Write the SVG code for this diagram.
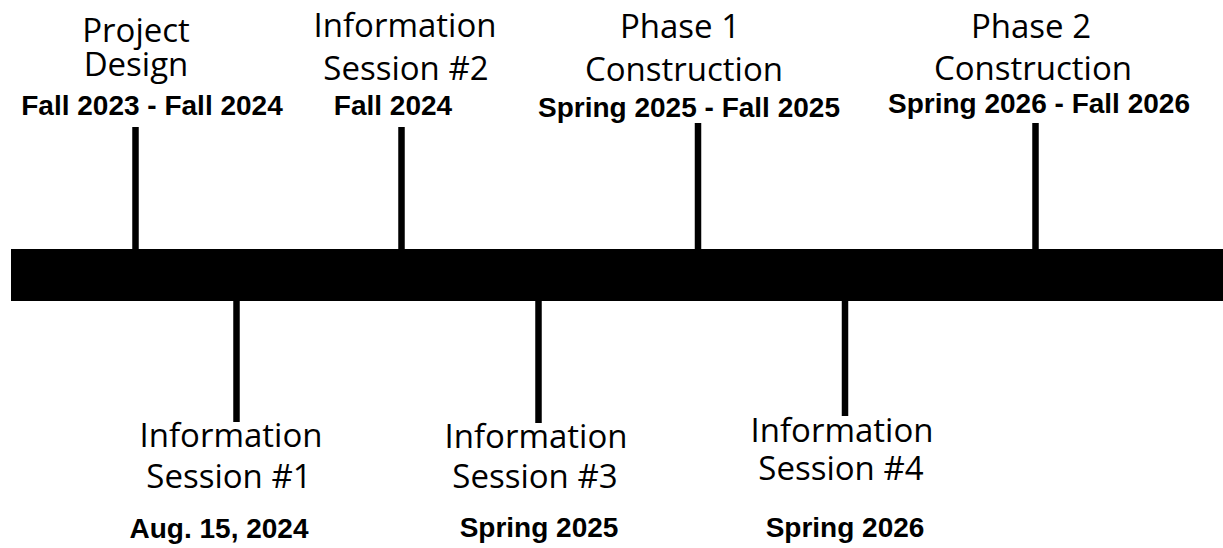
<svg xmlns="http://www.w3.org/2000/svg" width="1223" height="548" viewBox="0 0 1223 548">
<style>
.t{font-family:"Open Sans","Noto Sans",sans-serif;font-size:33px;fill:#000;text-anchor:middle}
.d{font-family:"Liberation Sans",Arial,sans-serif;font-size:28px;font-weight:bold;fill:#000;text-anchor:middle}
.tick{stroke:#000;stroke-width:6.5;fill:none}
</style>
<rect width="1223" height="548" fill="#fff"/>
<g id="connectors">
<rect id="timeline-bar" x="11" y="249" width="1212" height="52" fill="#000"/>
<line class="tick" x1="135.5" y1="127" x2="135.5" y2="249"/>
<line class="tick" x1="401.5" y1="127" x2="401.5" y2="249"/>
<line class="tick" x1="698" y1="123" x2="698" y2="249"/>
<line class="tick" x1="1035.5" y1="123" x2="1035.5" y2="249"/>
<line class="tick" x1="236.5" y1="301" x2="236.5" y2="422"/>
<line class="tick" x1="538.5" y1="301" x2="538.5" y2="423"/>
<line class="tick" x1="845" y1="301" x2="845" y2="416"/>
</g>
<g id="project-design">
<text class="t" x="136" y="42">Project</text>
<text class="t" x="136" y="76">Design</text>
<text class="d" x="152" y="115">Fall 2023 - Fall 2024</text>
</g>
<g id="info-session-2">
<text class="t" x="405" y="37">Information</text>
<text class="t" x="406" y="80">Session #2</text>
<text class="d" x="393" y="115">Fall 2024</text>
</g>
<g id="phase-1">
<text class="t" x="680" y="38">Phase 1</text>
<text class="t" x="684" y="81">Construction</text>
<text class="d" x="689" y="117">Spring 2025 - Fall 2025</text>
</g>
<g id="phase-2">
<text class="t" x="1031" y="38">Phase 2</text>
<text class="t" x="1033" y="80">Construction</text>
<text class="d" x="1039" y="113">Spring 2026 - Fall 2026</text>
</g>
<g id="info-session-1">
<text class="t" x="231" y="447">Information</text>
<text class="t" x="229" y="488">Session #1</text>
<text class="d" x="219" y="538">Aug. 15, 2024</text>
</g>
<g id="info-session-3">
<text class="t" x="536" y="448">Information</text>
<text class="t" x="535" y="488">Session #3</text>
<text class="d" x="539" y="537">Spring 2025</text>
</g>
<g id="info-session-4">
<text class="t" x="842" y="442">Information</text>
<text class="t" x="841" y="480">Session #4</text>
<text class="d" x="845" y="537">Spring 2026</text>
</g>
</svg>
